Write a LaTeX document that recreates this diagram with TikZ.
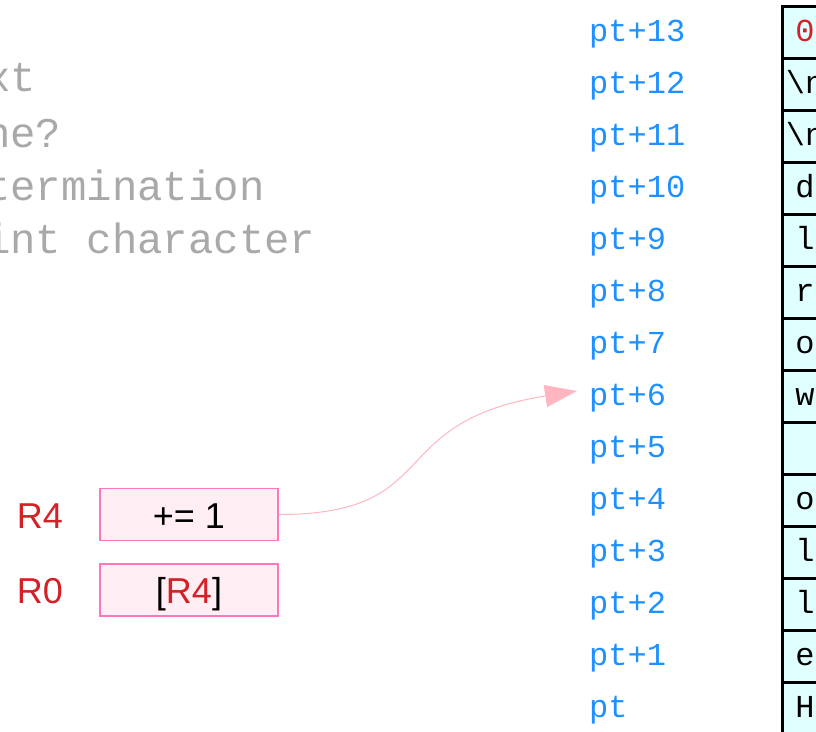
\documentclass[tikz,border=0pt]{standalone}
\usepackage{fontspec}
\newfontfamily\memfont{Liberation Mono}
\newfontfamily\regfont{Liberation Sans}
\usetikzlibrary{arrows.meta}

\definecolor{ptblue}{HTML}{1E90FF}
\definecolor{regred}{HTML}{D42027}
\definecolor{notegray}{HTML}{A9A9A9}
\definecolor{cellcyan}{HTML}{E0FFFF}
\definecolor{boxpink}{HTML}{FFEEF4}
\definecolor{boxedge}{HTML}{FF77BB}
\definecolor{arrowpink}{HTML}{FFB6C1}

\tikzset{
  cell/.style={draw=black, line width=3pt, fill=cellcyan, minimum width=46pt,
    minimum height=52pt, inner sep=0pt, text height=26pt, text depth=7pt,
    font=\memfont\fontsize{32}{32}\selectfont},
  ptlabel/.style={anchor=west, inner sep=0pt, text=ptblue, text height=26pt,
    text depth=7pt, font=\memfont\fontsize{32}{32}\selectfont},
  note/.style={anchor=base west, inner sep=0pt, text=notegray,
    font=\memfont\fontsize{42.3}{42.3}\selectfont},
  regname/.style={text=regred, inner sep=0pt, text height=30pt, text depth=3pt,
    font=\regfont\fontsize{36}{36}\selectfont},
  opbox/.style={draw=boxedge, line width=1.2pt, fill=boxpink, minimum width=178pt,
    minimum height=52pt, inner sep=0pt, text height=30pt, text depth=3pt,
    font=\regfont\fontsize{36}{36}\selectfont}
}

\begin{document}
\begin{tikzpicture}[x=1pt,y=-1pt]
\clip (0,0) rectangle (816,731);

% we write the notes on the left
\node[note] (line1) at (-15,91) {xt};
\node[note] (line2) at (-15,147) {ne?};
\node[note] (line3) at (-15,200) {termination};
\node[note] (line4) at (-15,253) {int character};

% we draw the memory cells and their addresses
\foreach \k/\ch in {0/H,1/e,2/l,3/l,4/o,5/{},6/w,7/o,8/r,9/l,10/d,
    11/\textbackslash n,12/\textbackslash n,13/{\textcolor{regred}{0}}} {
  \node[cell] (cell\k) at (805,{32+(13-\k)*52}) {\ch};
  \node[ptlabel] (pt\k) at (589,{32+(13-\k)*52}) {\ifnum\k=0 pt\else pt+\k\fi};
}

% we add the registers
\node[regname] (regfour) at (40,515) {R4};
\node[regname] (regzero) at (40,590) {R0};
\node[opbox] (incbox) at (189,514.5) {+= 1};
\node[opbox] (loadbox) at (189,590) {[\textcolor{regred}{R4}]};

% R4 points to pt+6
\draw[arrowpink, line width=1pt, -{Triangle[length=32pt,width=22pt]}]
  (incbox.east) .. controls +(167,0) and +(-196,31) .. ([shift={(-12,-5)}]pt6.west);

\end{tikzpicture}
\end{document}
